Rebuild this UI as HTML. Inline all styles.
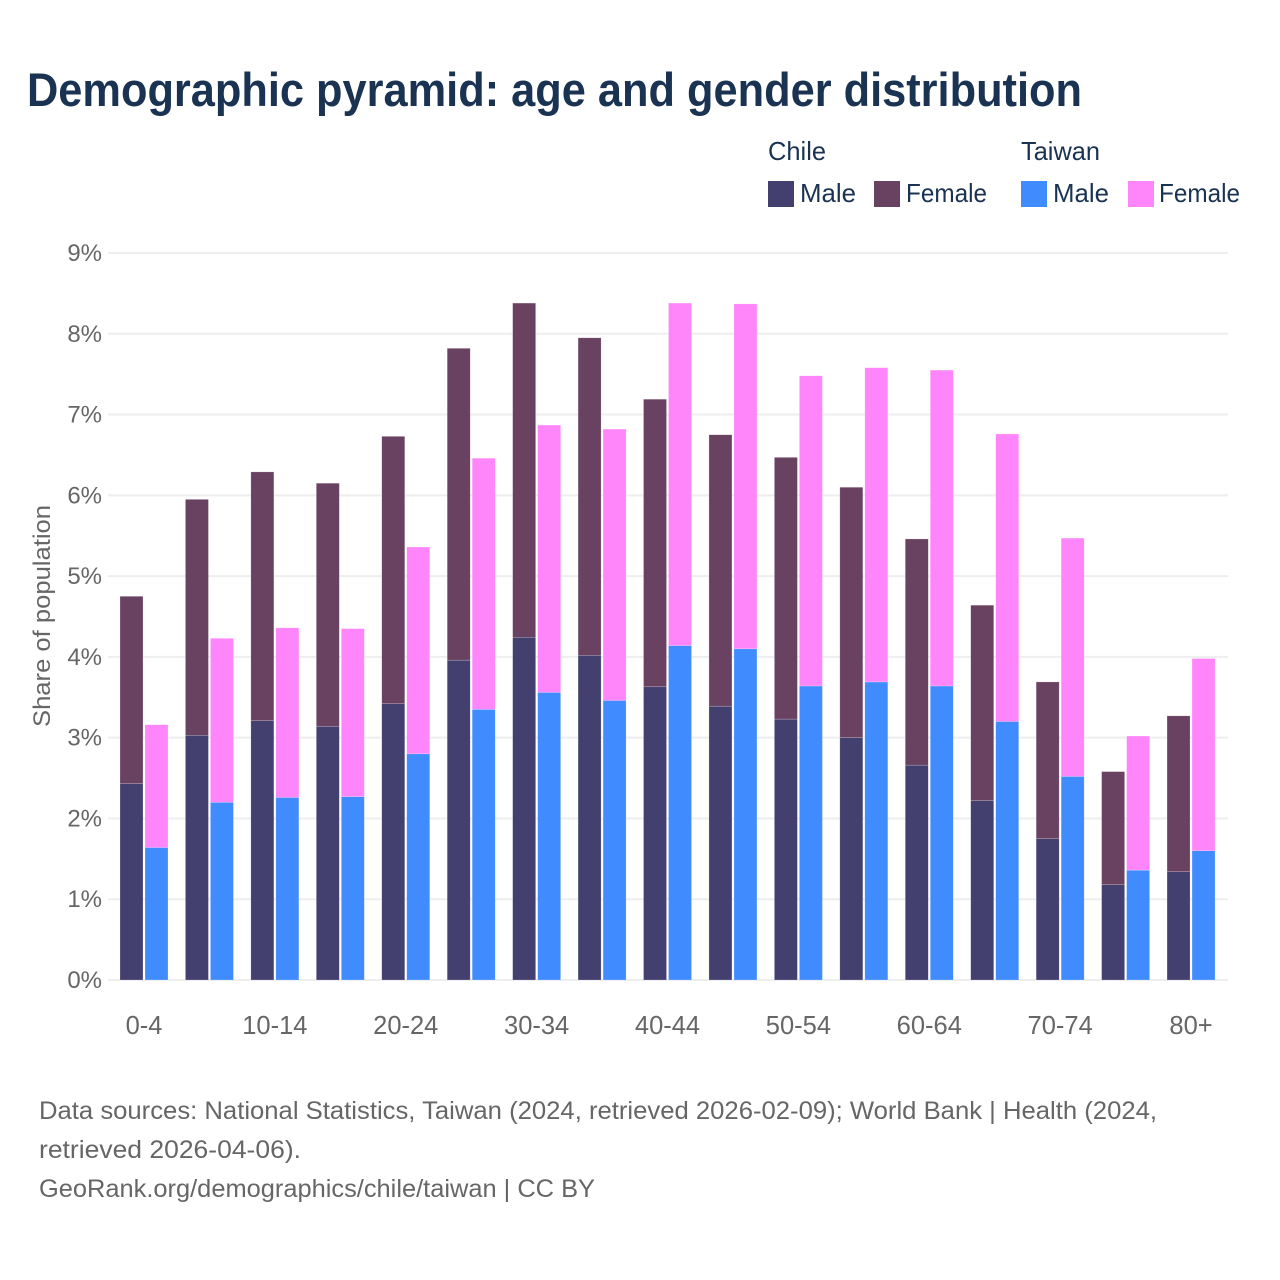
<!DOCTYPE html>
<html lang="en">
<head>
<meta charset="utf-8">
<title>Demographic pyramid: age and gender distribution</title>
<style>
  html, body { margin: 0; padding: 0; background: #fff; }
  svg { display: block; }
  text { font-family: "Liberation Sans", sans-serif; }
</style>
</head>
<body>
<svg id="chart" xmlns="http://www.w3.org/2000/svg" width="1280" height="1280" viewBox="0 0 1280 1280">
  <rect x="0" y="0" width="1280" height="1280" fill="#ffffff"/>
  <text x="27" y="106" font-size="47" font-weight="700" fill="#1a3352" textLength="1055" lengthAdjust="spacingAndGlyphs">Demographic pyramid: age and gender distribution</text>

  <g font-size="26" fill="#1a3352">
    <text x="768" y="160" textLength="58" lengthAdjust="spacingAndGlyphs">Chile</text>
    <text x="1021" y="160" textLength="79" lengthAdjust="spacingAndGlyphs">Taiwan</text>
    <rect x="768" y="181" width="26" height="26" fill="#433f6f"/>
    <text x="800" y="202" textLength="56" lengthAdjust="spacingAndGlyphs">Male</text>
    <rect x="874" y="181" width="26" height="26" fill="#694262"/>
    <text x="906" y="202" textLength="81" lengthAdjust="spacingAndGlyphs">Female</text>
    <rect x="1021" y="181" width="26" height="26" fill="#408cff"/>
    <text x="1053" y="202" textLength="56" lengthAdjust="spacingAndGlyphs">Male</text>
    <rect x="1128" y="181" width="26" height="26" fill="#ff85fa"/>
    <text x="1159" y="202" textLength="81" lengthAdjust="spacingAndGlyphs">Female</text>
  </g>

  <g id="grid"></g>
  <g id="yticks"></g>
  <g id="bars"></g>
  <g id="xticks"></g>

  <text transform="translate(50 616) rotate(-90)" text-anchor="middle" font-size="24" fill="#666666" textLength="222" lengthAdjust="spacingAndGlyphs">Share of population</text>

  <g font-size="25" fill="#666666">
    <text x="39" y="1119" textLength="1118" lengthAdjust="spacingAndGlyphs">Data sources: National Statistics, Taiwan (2024, retrieved 2026-02-09); World Bank | Health (2024,</text>
    <text x="39" y="1158" textLength="262" lengthAdjust="spacingAndGlyphs">retrieved 2026-04-06).</text>
    <text x="39" y="1197" textLength="556" lengthAdjust="spacingAndGlyphs">GeoRank.org/demographics/chile/taiwan | CC BY</text>
  </g>
</svg>
<script>
const categories = ["0-4","5-9","10-14","15-19","20-24","25-29","30-34","35-39","40-44","45-49","50-54","55-59","60-64","65-69","70-74","75-79","80+"];
const chileMale = [2.43,3.03,3.21,3.14,3.42,3.96,4.24,4.02,3.63,3.39,3.23,3.00,2.66,2.22,1.75,1.18,1.34];
const chileFemale = [2.32,2.92,3.08,3.01,3.31,3.86,4.14,3.93,3.56,3.36,3.24,3.10,2.80,2.42,1.94,1.40,1.93];
const taiwanMale = [1.64,2.20,2.26,2.27,2.80,3.35,3.56,3.46,4.14,4.10,3.64,3.69,3.64,3.20,2.52,1.36,1.60];
const taiwanFemale = [1.52,2.03,2.10,2.08,2.56,3.11,3.31,3.36,4.24,4.27,3.84,3.89,3.91,3.56,2.95,1.66,2.38];
const yTicks = [0,1,2,3,4,5,6,7,8,9];

const NS = "http://www.w3.org/2000/svg";
const plotLeft = 108, plotRight = 1228, y0 = 980, yTop = 253, yMax = 9;
const firstBarX = 120, groupStep = 65.44, barW = 23, barGap = 2;

function yScale(v) { return y0 - (v / yMax) * (y0 - yTop); }
function xScale(i) { return firstBarX + i * groupStep; }

const grid = document.getElementById("grid");
const yt = document.getElementById("yticks");
yTicks.forEach(function (t) {
  const l = document.createElementNS(NS, "line");
  l.setAttribute("x1", plotLeft);
  l.setAttribute("x2", plotRight);
  l.setAttribute("y1", yScale(t));
  l.setAttribute("y2", yScale(t));
  l.setAttribute("stroke", "#eeeeee");
  l.setAttribute("stroke-width", "2");
  
  
  grid.appendChild(l);

  const tx = document.createElementNS(NS, "text");
  tx.setAttribute("x", 102);
  tx.setAttribute("y", yScale(t) + 8);
  tx.setAttribute("text-anchor", "end");
  tx.setAttribute("font-size", "24");
  tx.setAttribute("fill", "#666666");
  tx.textContent = t + "%";
  
  
  yt.appendChild(tx);
});

const bars = document.getElementById("bars");
function addBar(x, base, value, fill, name) {
  const r = document.createElementNS(NS, "rect");
  const top = yScale(base + value);
  r.setAttribute("x", x);
  r.setAttribute("y", top);
  r.setAttribute("width", barW);
  r.setAttribute("height", yScale(base) - top);
  r.setAttribute("fill", fill);
  r.setAttribute("stroke", "#ffffff");
  r.setAttribute("stroke-opacity", "0.4");
  r.setAttribute("stroke-width", "0.5");
  
  
  bars.appendChild(r);
}

const xt = document.getElementById("xticks");
categories.forEach(function (c, i) {
  const x1 = xScale(i);
  const x2 = x1 + barW + barGap;
  addBar(x1, 0, chileMale[i], "#433f6f", "bar-chile-male");
  addBar(x1, chileMale[i], chileFemale[i], "#694262", "bar-chile-female");
  addBar(x2, 0, taiwanMale[i], "#408cff", "bar-taiwan-male");
  addBar(x2, taiwanMale[i], taiwanFemale[i], "#ff85fa", "bar-taiwan-female");
  if (i % 2 === 0) {
    const tx = document.createElementNS(NS, "text");
    tx.setAttribute("x", x1 + barW + barGap / 2);
    tx.setAttribute("y", 1034);
    tx.setAttribute("text-anchor", "middle");
    tx.setAttribute("font-size", "25.5");
    tx.setAttribute("fill", "#666666");
    tx.textContent = c;
    
    
    xt.appendChild(tx);
  }
});
</script>
</body>
</html>
